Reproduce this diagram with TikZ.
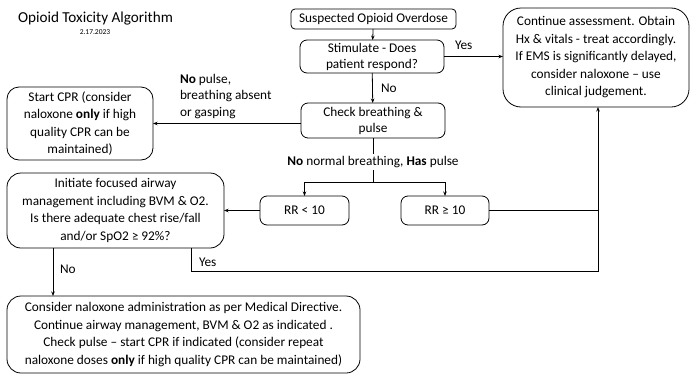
\documentclass[tikz,border=0pt]{standalone}
\usepackage{fontspec}
\setmainfont{Carlito}
\usetikzlibrary{arrows.meta}
\begin{document}
\begin{tikzpicture}[x=1pt,y=-1pt,
  every node/.style={inner sep=0pt, outer sep=0pt},
  txt/.style={font=\fontsize{13.3}{17.5}\selectfont, align=center},
  stepbox/.style={txt, draw, line width=0.8pt, rounded corners=#1},
  stepbox/.default=7pt,
  lbl/.style={font=\fontsize{13.3}{16.5}\selectfont, align=left},
  conn/.style={line width=0.8pt},
  arr/.style={conn, -{Stealth[length=4.5pt,width=3.5pt]}}]
\useasboundingbox (0,0) rectangle (690,375);

% heading
\node[font=\fontsize{15.2}{17}\selectfont, anchor=west] (title) at (18,19) {Opioid Toxicity Algorithm};
\node[font=\fontsize{7.5}{8}\selectfont] (date) at (95,32) {2.17.2023};

% boxes
\node[stepbox=4pt, minimum width=165pt, minimum height=20pt] (susp) at (373.5,19) {Suspected Opioid Overdose};
\node[stepbox, minimum width=144pt, minimum height=33pt, font=\fontsize{13.3}{16}\selectfont] (stim) at (372,56.5) {Stimulate - Does\\patient respond?};
\node[stepbox, minimum width=144pt, minimum height=35pt, font=\fontsize{13.3}{16}\selectfont] (check) at (373,120.5) {Check breathing \&\\pulse};
\node[stepbox=12pt, minimum width=146pt, minimum height=73pt] (cpr) at (80,123.5) {Start CPR (consider\\naloxone \textbf{only} if high\\quality CPR can be\\maintained)};
\node[stepbox=18pt, minimum width=186pt, minimum height=99pt] (cont) at (596,57.5) {Continue assessment. Obtain\\Hx \& vitals - treat accordingly.\\If EMS is significantly delayed,\\consider naloxone -- use\\clinical judgement.};
\node[stepbox, minimum width=89pt, minimum height=29pt] (rrlow) at (304.5,210.5) {RR < 10};
\node[stepbox, minimum width=88pt, minimum height=29pt] (rrhigh) at (445,210.5) {RR ≥ 10};
\node[stepbox=14pt, minimum width=217pt, minimum height=75pt] (airway) at (115.5,210.5) {Initiate focused airway\\management including BVM \& O2.\\Is there adequate chest rise/fall\\and/or SpO2 ≥ 92\%?};
\node[stepbox=14pt, minimum width=353pt, minimum height=77pt] (nalox) at (183.5,334.5) {Consider naloxone administration as per Medical Directive.\\Continue airway management, BVM \& O2 as indicated .\\Check pulse -- start CPR if indicated (consider repeat\\naloxone doses \textbf{only} if high quality CPR can be maintained)};

% connectors
\draw[arr] (susp) -- (stim);
\draw[arr] (stim.east) -- (cont.west |- stim.east);
\node[txt, anchor=west] (yes1) at (455,45) {Yes};
\draw[arr] (stim) -- (check);
\node[txt, anchor=west] (no1) at (381,88) {No};

\draw[arr] (check.west |- cpr.east) -- (cpr.east);
\node[lbl, anchor=north west] (nopulse) at (180,74) {\textbf{No} pulse,\\breathing absent\\or gasping};

\node[txt] (nobreath) at (373,162) {\textbf{No} normal breathing, \textbf{Has} pulse};
\coordinate (split) at (373,182);
\draw[conn] (check.south) -- (nobreath.north |- 0,154);
\draw[conn] (nobreath.south |- 0,170) -- (split);
\draw[arr] (split) -| (rrlow.north);
\draw[arr] (split) -| (rrhigh.north);

\draw[arr] (rrlow.west) -- (airway.east |- rrlow.west);

\coordinate (yesdown) at (191,271);
\coordinate (yesup) at (598,271);
\draw[arr] (airway.south -| yesdown) -- (yesdown) -- (yesup) -- (yesup |- cont.south);
\draw[conn] (rrhigh.east) -- (yesup |- rrhigh.east);
\node[txt, anchor=west] (yes2) at (199,262) {Yes};

\draw[arr] (airway.south -| 53,0) -- (nalox.north -| 53,0);
\node[txt, anchor=west] (no2) at (60,269) {No};
\end{tikzpicture}
\end{document}
